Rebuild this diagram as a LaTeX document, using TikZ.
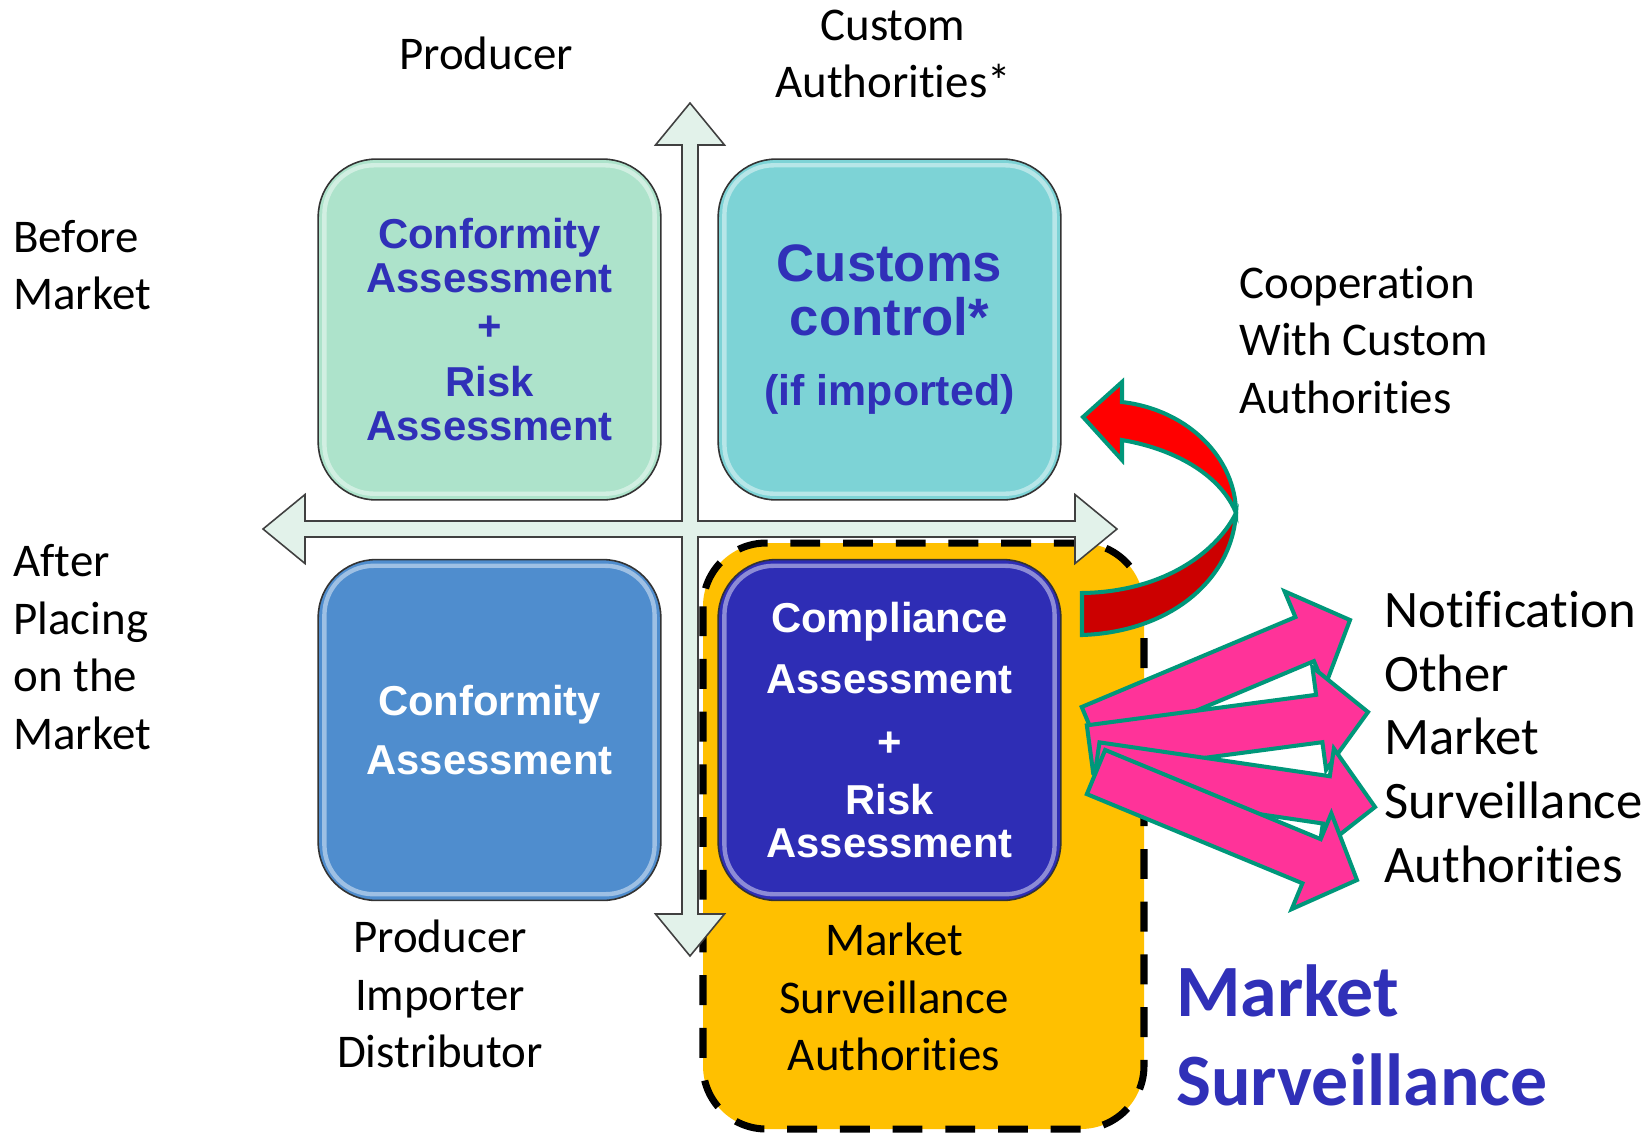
\documentclass[tikz,border=0pt]{standalone}
\usepackage{fontspec}
\setmainfont{Carlito}[Ligatures=NoCommon]
\newfontfamily\arialfont{Liberation Sans}
\usetikzlibrary{calc}

\definecolor{mintbox}{HTML}{ADE3CB}
\definecolor{tealbox}{HTML}{7DD3D6}
\definecolor{skybox}{HTML}{4F8DCE}
\definecolor{indigobox}{HTML}{2E2DB5}
\definecolor{boxtext}{HTML}{3030B8}
\definecolor{msyellow}{HTML}{FFC000}
\definecolor{axisfill}{HTML}{E2F2EA}
\definecolor{rimgreen}{HTML}{00977A}
\definecolor{hotpink}{HTML}{FF3399}
\definecolor{darkred}{HTML}{CC0000}

% straight block arrow: #1 name, #2 tail, #3 tip
\newcommand{\fatarrow}[3]{%
  \coordinate (#1h) at ($(#3)!28pt!(#2)$);
  \draw[pinkarrow] ($(#2)!13.6pt!90:(#3)$) -- ($(#1h)!13.6pt!-90:(#2)$) -- ($(#1h)!29.5pt!-90:(#2)$)
    -- (#3) -- ($(#1h)!29.5pt!90:(#2)$) -- ($(#1h)!13.6pt!90:(#2)$) -- ($(#2)!13.6pt!-90:(#3)$) -- cycle;
}

\begin{document}
\begin{tikzpicture}[
  x=0.02cm, y=-0.02cm,
  quadbox/.style={draw=black!80, line width=0.9pt, rounded corners=33pt, minimum width=195pt,
    minimum height=194pt, align=center, inner sep=0pt},
  gloss/.style={draw=white, opacity=0.45, line width=2.5pt, rounded corners=28pt},
  sidelabel/.style={font=\fontsize{26.7}{32.9}\selectfont, inner sep=0pt},
  pinkarrow/.style={fill=hotpink, draw=rimgreen, line width=2.3pt, line join=miter},
  redarrow/.style={draw=rimgreen, line width=2.3pt, line join=miter}
]
\useasboundingbox (0,0) rectangle (1647,1134);

% Market surveillance area
\draw[fill=msyellow, line width=4pt, dash pattern=on 17pt off 13pt, rounded corners=36pt]
  (703,543) rectangle (1144,1129);

% Axes cross
\draw[fill=axisfill, draw=black!75, line width=0.9pt]
  (690,103) -- (724.5,145) -- (698,145) -- (698,521) -- (1075,521) -- (1075,494.5) -- (1117,529)
  -- (1075,563.5) -- (1075,537) -- (698,537) -- (698,914) -- (724.5,914) -- (690,956)
  -- (655.5,914) -- (682,914) -- (682,537) -- (305,537) -- (305,563.5) -- (263,529)
  -- (305,494.5) -- (305,521) -- (682,521) -- (682,145) -- (655.5,145) -- cycle;

% Quadrant boxes
\node[quadbox, fill=mintbox, text=boxtext, font=\arialfont\bfseries\fontsize{23.8}{25}\selectfont]
  (caBox) at (489.5,329.5) {Conformity\\Assessment\\[2.8pt]+\\[6.8pt]Risk\\Assessment};
\node[quadbox, fill=tealbox, text=boxtext, font=\arialfont\bfseries\fontsize{30}{30.6}\selectfont]
  (customsBox) at (889.5,329.5) {Customs\\control*\\[9pt]{\fontsize{24.4}{25}\selectfont(if imported)}};
\node[quadbox, fill=skybox, text=white, font=\arialfont\bfseries\fontsize{23.8}{33.5}\selectfont]
  (caLowBox) at (489.5,730) {Conformity\\Assessment};
\node[quadbox, fill=indigobox, text=white, font=\arialfont\bfseries\fontsize{23.8}{24.4}\selectfont]
  (complBox) at (889.5,730) {Compliance\\[10.2pt]Assessment\\[11.9pt]+\\[8.5pt]Risk\\Assessment};
\foreach \b in {caBox, customsBox, caLowBox, complBox} {
  \draw[gloss] ($(\b.north west)+(7,7)$) rectangle ($(\b.south east)+(-7,-7)$);
}

% Curved arrow to customs (lower half darker)
\draw[redarrow, fill=darkred] (1082,593) .. controls (1160,592) and (1215,555) .. (1236,513)
  .. controls (1232,580) and (1170,632) .. (1082,635) -- cycle;
\draw[redarrow, fill=red] (1236,513) .. controls (1236,460) and (1190,410) .. (1122,402)
  -- (1122,382) -- (1083,417) -- (1122,460) -- (1122,440)
  .. controls (1180,450) and (1222,478) .. (1236,513) -- cycle;

% Notification arrows
\coordinate (t1) at (1091,729); \coordinate (p1) at (1350,620);
\coordinate (t2) at (1090,749); \coordinate (p2) at (1368,712);
\coordinate (t3) at (1096,766); \coordinate (p3) at (1375,807);
\coordinate (t4) at (1096,772); \coordinate (p4) at (1357,880);
\fatarrow{a1}{t1}{p1}
\fatarrow{a2}{t2}{p2}
\fatarrow{a3}{t3}{p3}
\fatarrow{a4}{t4}{p4}

% Labels
\node[sidelabel] (producer) at (486,53) {Producer};
\node[sidelabel, align=center] (customAuth) at (893,54) {Custom\\Authorities*};
\node[sidelabel, align=left, anchor=west] (before) at (13,265) {Before\\Market};
\node[sidelabel, align=left, anchor=west] (after) at (13,647) {After\\Placing\\on the\\Market};
\node[sidelabel, align=left, anchor=west] (coop) at (1239,340) {Cooperation\\With Custom\\Authorities};
\node[sidelabel, align=center] (actors) at (440,994) {Producer\\Importer\\Distributor};
\node[sidelabel, align=center] (msa) at (894,997) {Market\\Surveillance\\Authorities};
\node[sidelabel, align=left, anchor=west, font=\fontsize{30}{36.3}\selectfont]
  (notify) at (1384,737) {Notification\\Other\\Market\\Surveillance\\Authorities};
\node[sidelabel, align=left, anchor=west, text=boxtext, font=\bfseries\fontsize{42}{50.5}\selectfont]
  (msTitle) at (1176,1035) {Market\\Surveillance};

\end{tikzpicture}
\end{document}
